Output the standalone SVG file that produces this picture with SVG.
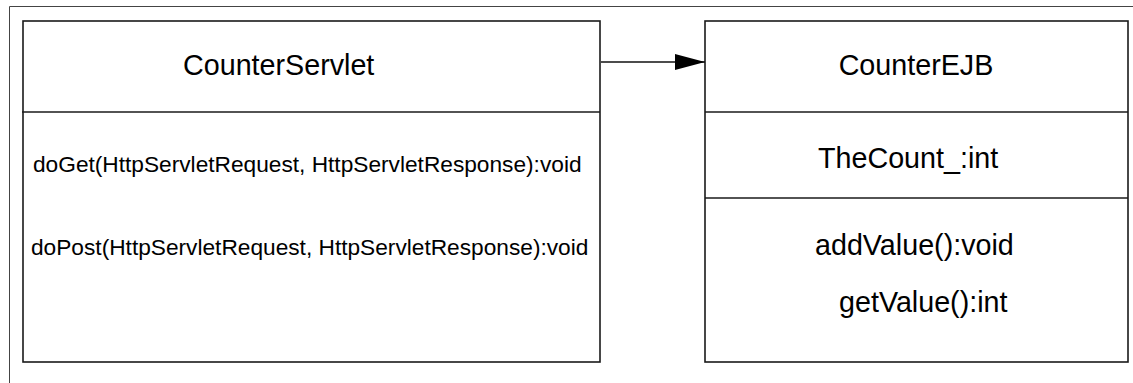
<svg xmlns="http://www.w3.org/2000/svg" width="1133" height="383" viewBox="0 0 1133 383">
<style>
.frame{fill:none;stroke:#444;stroke-width:1}
.box{fill:#fff;stroke:#1a1a1a;stroke-width:1.6}
.div{stroke:#1a1a1a;stroke-width:1.4}
.t{font-family:"Liberation Sans",Arial,sans-serif;fill:#000}
.big{font-size:28.7px}
.small{font-size:22.7px}
.conn{stroke:#111;stroke-width:1.5;fill:none}
</style>
<defs>
<marker id="arr" markerWidth="30" markerHeight="16" refX="30" refY="8" orient="auto" markerUnits="userSpaceOnUse">
<path d="M0,0 L30,8 L0,16 Z" fill="#000"/>
</marker>
</defs>
<path class="frame" d="M9.5,383 V6.5 H1133"/>
<g id="CounterServlet">
<rect class="box" x="23" y="21" width="577" height="341"/>
<line class="div" x1="22" y1="112" x2="600" y2="112"/>
<text class="t big" x="183" y="75">CounterServlet</text>
<text class="t small" x="33" y="172">doGet(HttpServletRequest, HttpServletResponse):void</text>
<text class="t small" x="31" y="255">doPost(HttpServletRequest, HttpServletResponse):void</text>
</g>
<g id="CounterEJB">
<rect class="box" x="705" y="21" width="423" height="341"/>
<line class="div" x1="705" y1="112" x2="1128" y2="112"/>
<line class="div" x1="705" y1="198" x2="1128" y2="198"/>
<text class="t big" x="916" y="75" text-anchor="middle">CounterEJB</text>
<text class="t big" x="818" y="168">TheCount_:int</text>
<text class="t big" x="815" y="255">addValue():void</text>
<text class="t big" x="839" y="312">getValue():int</text>
</g>
<g id="connectors">
<line class="conn" x1="601" y1="62" x2="705" y2="62" marker-end="url(#arr)"/>
</g>
</svg>
